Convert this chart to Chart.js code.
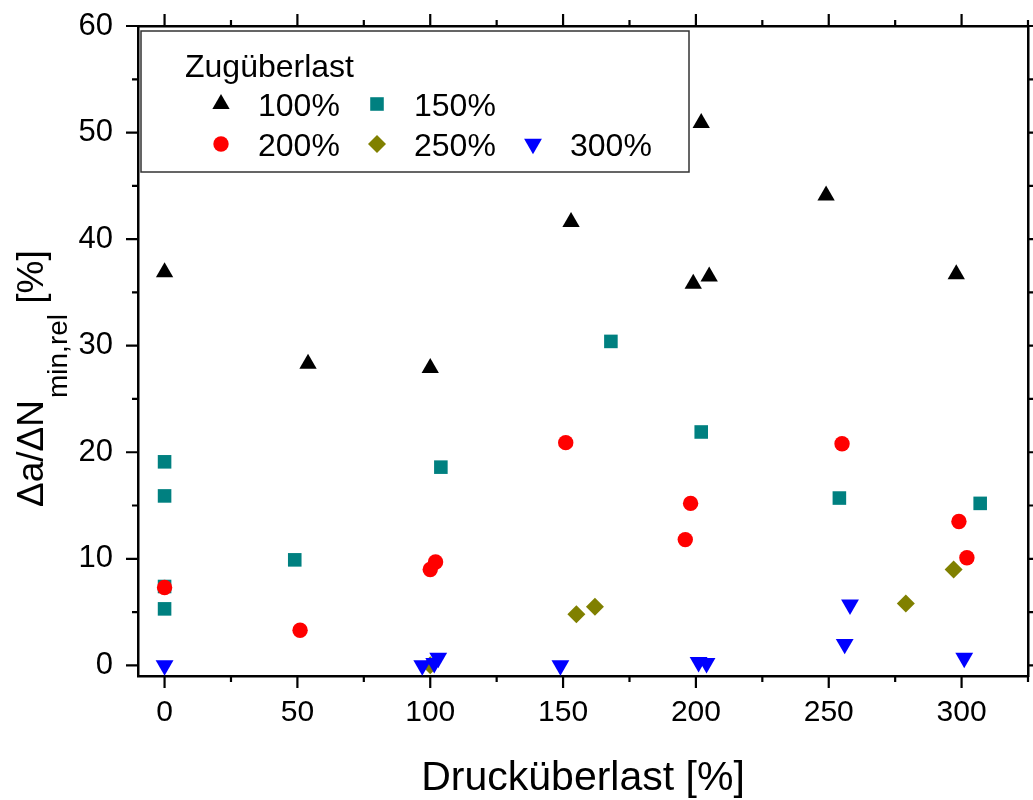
<!DOCTYPE html>
<html>
<head>
<meta charset="utf-8">
<script src="https://cdn.jsdelivr.net/npm/chart.js@4"></script>
<style>
  html, body { margin: 0; padding: 0; background: #fff; }
  #wrap { width: 1033px; height: 800px; }
</style>
</head>
<body>
<div id="wrap"><canvas id="chart" width="1033" height="800"></canvas></div>
<script>
// Zugüberlast series, x = Drucküberlast [%], y = da/dN min,rel [%]
const labels = ['100%', '150%', '200%', '250%', '300%'];

const x100 = [0, 54, 100, 153, 199, 205, 202, 249, 298];
const y100 = [36.9, 28.3, 27.9, 41.6, 35.8, 36.5, 50.9, 44.1, 36.7];

const x150 = [0, 0, 0, 0, 49, 104, 168, 202, 254, 307];
const y150 = [19.1, 15.9, 7.4, 5.3, 9.9, 18.6, 30.4, 21.9, 15.7, 15.2];

const x200 = [0, 51, 100, 102, 151, 196, 198, 255, 299, 302];
const y200 = [7.3, 3.3, 9.0, 9.7, 20.9, 11.8, 15.2, 20.8, 13.5, 10.1];

const x250 = [100, 155, 162, 279, 297];
const y250 = [0, 4.8, 5.5, 5.8, 9.0];

const x300 = [0, 97, 101.5, 103, 149, 201, 204, 256, 258, 301];
const y300 = [0, 0, 0.2, 0.7, 0, 0.3, 0.2, 2.0, 5.7, 0.7];

const xTicks = [0, 50, 100, 150, 200, 250, 300];
const yTicks = [0, 10, 20, 30, 40, 50, 60];

const FONT = "'Liberation Sans', Arial, sans-serif";

function pts(xs, ys) {
  return xs.map((x, i) => ({ x: x, y: ys[i] }));
}

const series = [
  { data: pts(x100, y100), color: '#000000', style: 'triangle', rot: 0, r: 10 },
  { data: pts(x150, y150), color: '#008080', style: 'rect', rot: 0, r: 9.6 },
  { data: pts(x200, y200), color: '#ff0000', style: 'circle', rot: 0, r: 7.7 },
  { data: pts(x250, y250), color: '#808000', style: 'rectRot', rot: 0, r: 9 },
  { data: pts(x300, y300), color: '#0000ff', style: 'triangle', rot: 180, r: 10.3 }
];

const datasets = series.map((s, i) => ({
  label: labels[i],
  data: s.data,
  pointStyle: s.style,
  pointRotation: s.rot,
  pointRadius: s.r,
  pointHoverRadius: s.r,
  pointBackgroundColor: s.color,
  pointBorderColor: s.color,
  pointBorderWidth: 0,
  showLine: false,
  clip: false,
  order: 5 - i
}));

// fixed box sizes, no extra label padding from the layout
function fixSize(w, h) {
  return function (s) {
    if (w !== null) s.width = w;
    if (h !== null) s.height = h;
    s.paddingTop = 0; s.paddingBottom = 0;
    s.paddingLeft = 0; s.paddingRight = 0;
  };
}

// tick marks (major + minor, outward on all four sides)
const tickMarks = {
  id: 'tickMarks',
  afterDraw(chart) {
    const ctx = chart.ctx;
    const a = chart.chartArea;
    const xs = chart.scales.x, ys = chart.scales.y;
    ctx.save();
    ctx.strokeStyle = '#000';
    ctx.lineWidth = 2.2;
    ctx.beginPath();
    for (let v = 0; v <= 325; v += 25) {
      const p = xs.getPixelForValue(v);
      const len = v % 50 === 0 ? 12 : 6;
      ctx.moveTo(p, a.bottom); ctx.lineTo(p, a.bottom + len);
      ctx.moveTo(p, a.top); ctx.lineTo(p, a.top - len);
    }
    for (let v = 0; v <= 60; v += 5) {
      const p = ys.getPixelForValue(v);
      const len = v % 10 === 0 ? 12 : 6;
      ctx.moveTo(a.left, p); ctx.lineTo(a.left - len, p);
      ctx.moveTo(a.right, p); ctx.lineTo(a.right + len, p);
    }
    ctx.stroke();
    ctx.restore();
  }
};

// rotated y title with subscript
const yTitle = {
  id: 'yTitle',
  afterDraw(chart) {
    const ctx = chart.ctx;
    ctx.save();
    ctx.translate(43, 507);
    ctx.rotate(-Math.PI / 2);
    ctx.fillStyle = '#000';
    ctx.textBaseline = 'alphabetic';
    ctx.textAlign = 'left';
    ctx.font = '37px ' + FONT;
    const main = 'Δa/ΔN';
    ctx.fillText(main, 0, 0);
    let x = ctx.measureText(main).width + 2;
    ctx.font = '28px ' + FONT;
    const sub = 'min,rel';
    ctx.fillText(sub, x, 24);
    x += ctx.measureText(sub).width;
    ctx.font = '37px ' + FONT;
    ctx.fillText(' [%]', x, 0);
    ctx.restore();
  }
};

// boxed legend inside the plot
const boxLegend = {
  id: 'boxLegend',
  afterDraw(chart) {
    const ctx = chart.ctx;
    ctx.save();
    ctx.fillStyle = '#fff';
    ctx.fillRect(141, 31, 548, 141);
    ctx.strokeStyle = '#333';
    ctx.lineWidth = 1.5;
    ctx.strokeRect(141, 31, 548, 141);
    ctx.fillStyle = '#000';
    ctx.font = '32px ' + FONT;
    ctx.textBaseline = 'alphabetic';
    ctx.fillText('Zugüberlast', 185, 77);
    const cols = [221, 377, 533];
    const rows = [104, 144];
    const place = [[0, 0], [0, 1], [1, 0], [1, 1], [1, 2]];
    chart.data.datasets.forEach((ds, i) => {
      const mx = cols[place[i][1]];
      const my = rows[place[i][0]];
      ctx.fillStyle = ds.pointBackgroundColor;
      ctx.strokeStyle = ds.pointBorderColor;
      Chart.helpers.drawPoint(ctx, {
        pointStyle: ds.pointStyle,
        rotation: ds.pointRotation,
        radius: ds.pointRadius,
        borderWidth: 0
      }, mx, my);
      ctx.fillStyle = '#000';
      ctx.fillText(ds.label, mx + 37, my + 12);
    });
    ctx.restore();
  }
};

new Chart(document.getElementById('chart'), {
  type: 'scatter',
  data: { datasets: datasets },
  plugins: [tickMarks, yTitle, boxLegend],
  options: {
    responsive: false,
    animation: false,
    events: [],
    layout: { padding: 0, autoPadding: false },
    plugins: {
      legend: { display: false },
      tooltip: { enabled: false }
    },
    scales: {
      x: {
        type: 'linear',
        position: 'bottom',
        min: -10,
        max: 325,
        afterFit: fixSize(null, 124),
        afterBuildTicks(s) { s.ticks = xTicks.map(v => ({ value: v })); },
        ticks: {
          color: '#000',
          padding: 19,
          maxRotation: 0,
          font: { family: FONT, size: 30 }
        },
        grid: { display: true, drawOnChartArea: false, drawTicks: false },
        border: { display: true, color: '#000', width: 2.5 },
        title: {
          display: true,
          text: 'Drucküberlast [%]',
          color: '#000',
          font: { family: FONT, size: 41, lineHeight: 1.0 },
          padding: { top: 0, bottom: 1 }
        }
      },
      x2: {
        type: 'linear',
        position: 'top',
        min: -10,
        max: 325,
        afterFit: fixSize(null, 26),
        ticks: { display: false },
        grid: { display: true, drawOnChartArea: false, drawTicks: false },
        border: { display: true, color: '#000', width: 2.5 }
      },
      y: {
        type: 'linear',
        position: 'left',
        min: -1,
        max: 60,
        afterFit: fixSize(138, null),
        afterBuildTicks(s) { s.ticks = yTicks.map(v => ({ value: v })); },
        ticks: {
          color: '#000',
          padding: 25,
          font: { family: FONT, size: 31 }
        },
        grid: { display: true, drawOnChartArea: false, drawTicks: false },
        border: { display: true, color: '#000', width: 2.5 }
      },
      y2: {
        type: 'linear',
        position: 'right',
        min: -1,
        max: 60,
        afterFit: fixSize(5, null),
        ticks: { display: false },
        grid: { display: true, drawOnChartArea: false, drawTicks: false },
        border: { display: true, color: '#000', width: 2.5 }
      }
    }
  }
});
</script>
</body>
</html>
